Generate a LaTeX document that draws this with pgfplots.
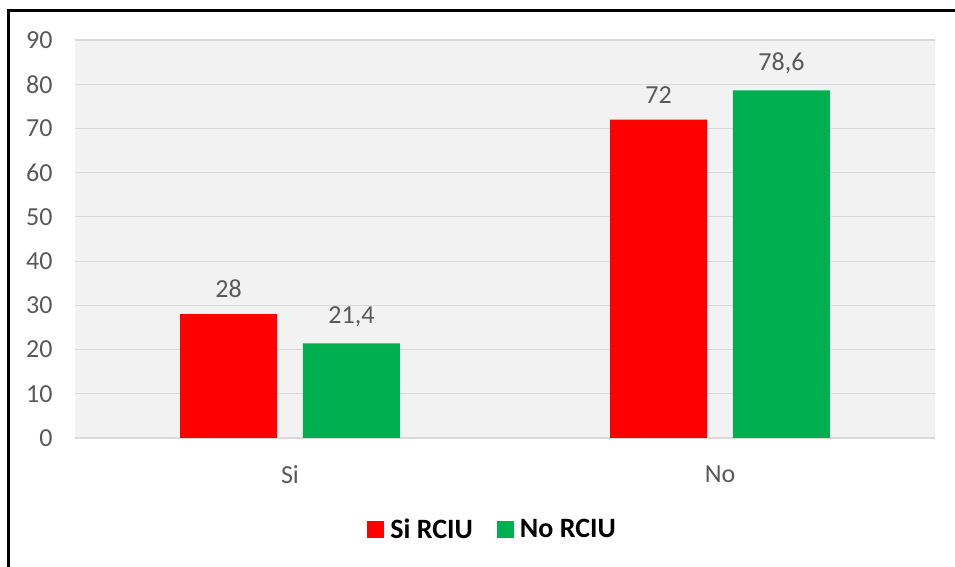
\documentclass[border=0pt]{standalone}
\usepackage{pgfplots}
\pgfplotsset{compat=1.18}
\usepackage{fontspec}
\setmainfont{Carlito}
\definecolor{bg}{HTML}{F2F2F2}
\definecolor{gridc}{HTML}{D9D9D9}
\definecolor{txt}{HTML}{595959}
\definecolor{myred}{HTML}{FF0000}
\definecolor{mygreen}{HTML}{00B050}
\begin{document}
\begin{tikzpicture}
\path[use as bounding box] (0,0) rectangle (477.5pt,283.5pt);
\draw[line width=1.5pt] (4.15pt,0) -- (4.15pt,278.25pt) -- (478pt,278.25pt);
\begin{axis}[
  at={(37.5pt,64.5pt)}, anchor=south west,
  scale only axis, width=430pt, height=199pt,
  xmin=-0.5, xmax=1.5, ymin=0, ymax=90,
  ytick={0,10,...,90},
  xtick={0,1}, xticklabels={Si,No},
  axis line style={draw=none},
  tick style={draw=none},
  ymajorgrids, grid style={gridc, line width=0.6pt},
  axis background/.style={fill=bg},
  /pgf/number format/assume math mode=true,
  ticklabel style={font=\fontsize{13}{15}\selectfont, text=txt},
  yticklabel style={anchor=east, inner sep=0pt, xshift=-11pt},
  xticklabel style={anchor=north, inner sep=0pt, yshift=-13.5pt},
  point meta=explicit symbolic,
  nodes near coords,
  nodes near coords style={font=\fontsize{13}{15}\selectfont, text=txt, inner sep=0pt, anchor=south, yshift=8pt},
  legend style={at={(0.3395,-0.231)}, anchor=west, draw=none, fill=none, inner sep=0pt,
    font=\fontsize{14}{16}\selectfont\bfseries, text=black,
    /tikz/every even column/.append style={column sep=12pt},
    nodes={inner sep=0pt}},
  legend columns=-1,
  legend image code/.code={\fill[#1] (0pt,-4.25pt) rectangle (8.5pt,4.25pt); \path (11.5pt,0pt);},
]
\addplot[ybar, bar width=0.2256, bar shift=-0.143, fill=myred, draw=none,
  every node near coord/.append style={xshift=-30.75pt}] table[meta=label] {
x y label
0 28 28
1 72 72
};
\addlegendentry{Si RCIU}
\addplot[ybar, bar width=0.2256, bar shift=0.143, fill=mygreen, draw=none,
  every node near coord/.append style={xshift=30.75pt}] table[meta=label] {
x y label
0 21.4 21,4
1 78.6 78,6
};
\addlegendentry{No RCIU}
\end{axis}
\end{tikzpicture}
\end{document}
